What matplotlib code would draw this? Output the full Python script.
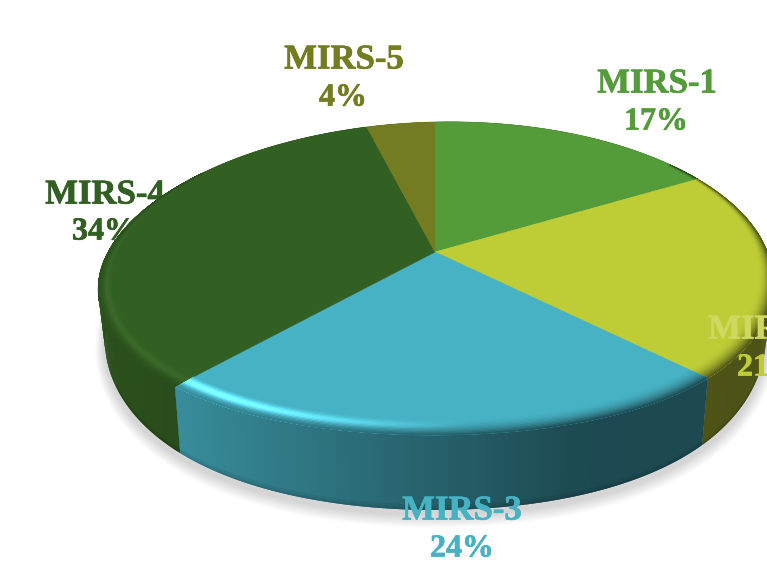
import matplotlib
matplotlib.use("Agg")
import matplotlib.pyplot as plt
import matplotlib.patheffects as pe
import numpy as np
from matplotlib.collections import PolyCollection
from matplotlib.colors import to_rgb
from matplotlib.patches import Polygon

# Share of each class, clockwise from 12 o'clock
labels = ["MIRS-1", "MIRS-2", "MIRS-3", "MIRS-4", "MIRS-5"]
values = [17, 21, 24, 34, 4]
colors = ["#549C3A", "#BECD36", "#46B2C4", "#325F22", "#737C21"]

# Label centres in pixels: name line and percent line
name_pos = [(657, 84), (768, 330), (462, 511), (105, 195), (344, 60)]
pct_pos = [(656, 122), (769, 368), (462, 549), (104, 232), (343, 98)]

# Shape of the tilted pie
cx, cy = 435, 252
ax_x, ax_y = 330, 152
persp_x, persp_y = 0.2085, 0.169
tilt = 6
bevel_w = 0.07

# Side wall brightness against horizontal position
shade_x = [-1.0, -0.75, -0.13, 0.31, 1.0]
shade_v = [0.85, 0.82, 0.58, 0.42, 0.40]


def rim(theta, r=1.0):
    # circle point seen in perspective, the near half sits a little off centre
    X = r * np.sin(theta)
    Y = r * np.cos(theta)
    near = np.minimum(Y, 0) ** 2
    x = cx + ax_x * X / (1 + persp_x * Y) + 12 * near
    y = cy - ax_y * Y / (1 + persp_y * Y) - tilt * X + 16 * X ** 2 * near
    return x, y


def lower(theta, t=1.0):
    # same rim point moved down the side wall, t=0 top and t=1 bottom
    x, y = rim(theta)
    depth = 44 - 31 * np.cos(theta)
    return x + (cx - x) * 0.02 * t, y + depth * t


fig = plt.figure(figsize=(7.67, 5.69), dpi=100)
ax = fig.add_axes([0, 0, 1, 1])
ax.set_xlim(0, 767)
ax.set_ylim(569, 0)
ax.axis("off")

fractions = np.array(values) / sum(values)
edges = np.concatenate([[0], np.cumsum(fractions)]) * 2 * np.pi
all_theta = np.linspace(0, 2 * np.pi, 361)


def put_label(i, name_col, z):
    for pos, txt, col, sz in [(name_pos[i], labels[i], name_col, 25),
                              (pct_pos[i], f"{values[i]}%", colors[i], 23)]:
        t = ax.text(*pos, txt, color=col, ha="center", va="center",
                    family="Liberation Serif", weight="bold", size=sz, zorder=z)
        t.set_path_effects([pe.withStroke(linewidth=0.5, foreground=col)])


# Soft shadow under the pie, stacked see-through outlines
bx, by = lower(all_theta)
for i in range(14):
    grow = 1 + 0.0035 * (14 - i)
    sx = cx + (bx - cx) * grow ** 0.6
    sy = cy + (by + 5 - cy) * grow
    ax.add_patch(Polygon(np.column_stack([sx, sy]), fc="#000000", ec="none",
                         alpha=0.012, zorder=1))

# Label sitting behind the pie
put_label(3, colors[3], 2)

for i, col in enumerate(colors):
    base = np.array(to_rgb(col))
    lum = base.mean()
    n = max(int(np.degrees(edges[i + 1] - edges[i]) * 2), 2)
    th = np.linspace(edges[i], edges[i + 1], n + 1)
    step = th[1] - th[0]

    # Side wall as overlapping strips, so no seams show
    polys, faces = [], []
    for a, b in zip(th[:-1], th[1:]):
        f = np.interp(np.sin((a + b) / 2), shade_x, shade_v)
        end = min(b + step, edges[i + 1])
        polys.append([lower(a, 0), lower(end, 0), lower(end, 1), lower(a, 1)])
        faces.append(np.clip(base * f, 0, 1))
    ax.add_collection(PolyCollection(polys, facecolors=faces, edgecolors="none",
                                     zorder=3))

    # Darker foot of the wall
    for t0, a_foot in [(0.93, 0.06), (0.97, 0.08)]:
        fx0, fy0 = lower(th, t0)
        fx1, fy1 = lower(th, 1.0)
        pts = np.column_stack([np.r_[fx0, fx1[::-1]], np.r_[fy0, fy1[::-1]]])
        ax.add_patch(Polygon(pts, fc="#000000", ec="none", alpha=a_foot, zorder=3.5))

    # Flat top
    tx, ty = rim(th)
    pts = np.column_stack([np.r_[cx, tx], np.r_[cy, ty]])
    ax.add_patch(Polygon(pts, fc=col, ec=col, lw=0.4, zorder=4))

    # Bevel along the rim, lit from the front left; drawn ring by ring outward
    polys, faces = [], []
    rs = np.linspace(0, 1, 13)
    for r0, r1 in zip(rs[:-1], rs[1:]):
        t = (r0 + r1) / 2
        for a, b in zip(th[:-1], th[1:]):
            m = (a + b) / 2
            xm, ym = np.sin(m), np.cos(m)
            if ym > 0.6:
                continue
            f = np.interp(xm, shade_x, shade_v)
            w = bevel_w * (1 - ym) / 2
            lit = np.clip(-xm * 1.6 + 0.1, 0, 1) * np.clip(0.75 - ym, 0, 1)
            c = base * (1 - t ** 2) + base * f * t ** 2
            bump = np.exp(-((t - 0.4) / 0.25) ** 2)
            c = c * (1 + lit * bump * 1.25 * lum ** 2) + lit * bump * 0.4 * lum ** 2
            ra, rb = 1 - w * (1 - r0), 1 - w * (1 - r1)
            end = min(b + step, edges[i + 1])
            polys.append([rim(a, ra), rim(end, ra), rim(end, 1.0), rim(a, 1.0)])
            faces.append(np.clip(c, 0, 1))
    ax.add_collection(PolyCollection(polys, facecolors=faces, edgecolors="none",
                                     zorder=5))

# Labels in front of the pie
for i in [0, 1, 2, 4]:
    put_label(i, "#CFD85F" if labels[i] == "MIRS-2" else colors[i], 6)

fig.savefig("out.png", dpi=100)
